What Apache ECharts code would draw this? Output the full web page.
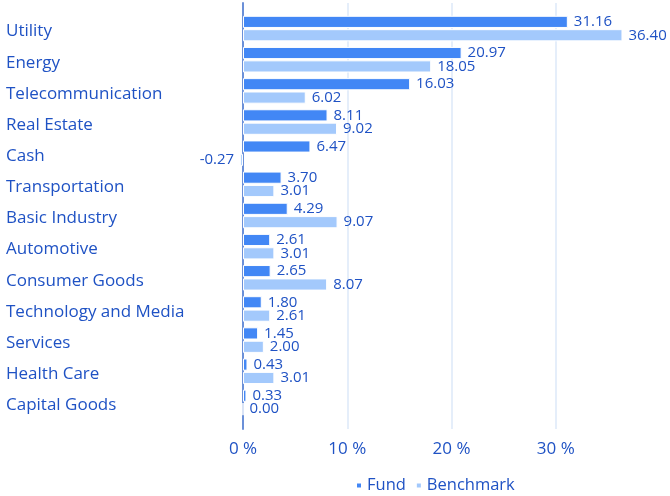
<!DOCTYPE html>
<html>
<head>
<meta charset="utf-8">
<script src="https://cdn.jsdelivr.net/npm/echarts@6/dist/echarts.min.js"></script>
<style>html,body{margin:0;padding:0;background:#fff;}#c{width:670px;height:496px;}</style>
</head>
<body>
<div id="c"></div>
<script>
const categories = ['Utility','Energy','Telecommunication','Real Estate','Cash','Transportation','Basic Industry','Automotive','Consumer Goods','Technology and Media','Services','Health Care','Capital Goods'];
const fundValues = [31.16,20.97,16.03,8.11,6.47,3.70,4.29,2.61,2.65,1.80,1.45,0.43,0.33];
const benchmarkValues = [36.40,18.05,6.02,9.02,-0.27,3.01,9.07,3.01,8.07,2.61,2.00,3.01,0.00];
const xTicks = [0,10,20,30];

const TXT = '#1f52c4';
const FONT = 'Open Sans';
const toData = arr => arr.map(v => ({value: v, label: {position: v < 0 ? 'left' : 'right'}}));

const chart = echarts.init(document.getElementById('c'));
chart.setOption({
  animation: false,
  textStyle: {fontFamily: FONT},
  legend: {
    left: 350, top: 472,
    icon: 'rect', itemWidth: 6, itemHeight: 6, itemGap: 9,
    textStyle: {fontSize: 16.5, color: TXT, fontFamily: FONT},
    data: ['Fund','Benchmark']
  },
  grid: [
    {left: 243, right: 10, top: 3, bottom: 67},
    {left: 243, right: 10, top: 13, bottom: 78}
  ],
  xAxis: [
    {gridIndex: 0, type: 'value', min: 0, max: 40, interval: 10,
     axisLine: {show: false}, axisTick: {show: false},
     axisLabel: {fontSize: 17, color: TXT, margin: 12, fontFamily: FONT,
       formatter: v => xTicks.indexOf(v) >= 0 ? v + ' %' : ''},
     splitLine: {show: true, lineStyle: {width: 1.5, color: ['transparent','#dde8f8','#dde8f8','#dde8f8','transparent']}}},
    {gridIndex: 1, type: 'value', min: 0, max: 40, show: false}
  ],
  yAxis: [
    {gridIndex: 0, type: 'value', min: 0, max: 1,
     axisLine: {show: true, lineStyle: {color: '#6b90d8', width: 2}},
     axisTick: {show: false}, axisLabel: {show: false}, splitLine: {show: false}},
    {gridIndex: 1, type: 'category', data: categories, inverse: true,
     axisLine: {show: false}, axisTick: {show: false},
     axisLabel: {align: 'left', margin: 237, fontFamily: FONT,
       formatter: v => '{a|' + v + '}',
       rich: {a: {fontSize: 17, color: TXT, fontFamily: FONT, padding: [6, 0, 0, 0]}}}}
  ],
  series: [
    {name: 'Fund', type: 'bar', xAxisIndex: 1, yAxisIndex: 1, data: toData(fundValues),
     clip: false, barCategoryGap: '18%', barGap: '10%',
     itemStyle: {color: '#4287f5', borderColor: '#ffffff', borderWidth: 1},
     label: {show: true, distance: 6, fontSize: 15, color: TXT, fontFamily: FONT, formatter: p => p.value.toFixed(2)}},
    {name: 'Benchmark', type: 'bar', xAxisIndex: 1, yAxisIndex: 1, data: toData(benchmarkValues),
     clip: false, barCategoryGap: '18%', barGap: '10%',
     itemStyle: {color: '#a3c9fc', borderColor: '#ffffff', borderWidth: 1},
     label: {show: true, distance: 6, fontSize: 15, color: TXT, fontFamily: FONT, formatter: p => p.value.toFixed(2)}}
  ]
});
</script>
</body>
</html>
